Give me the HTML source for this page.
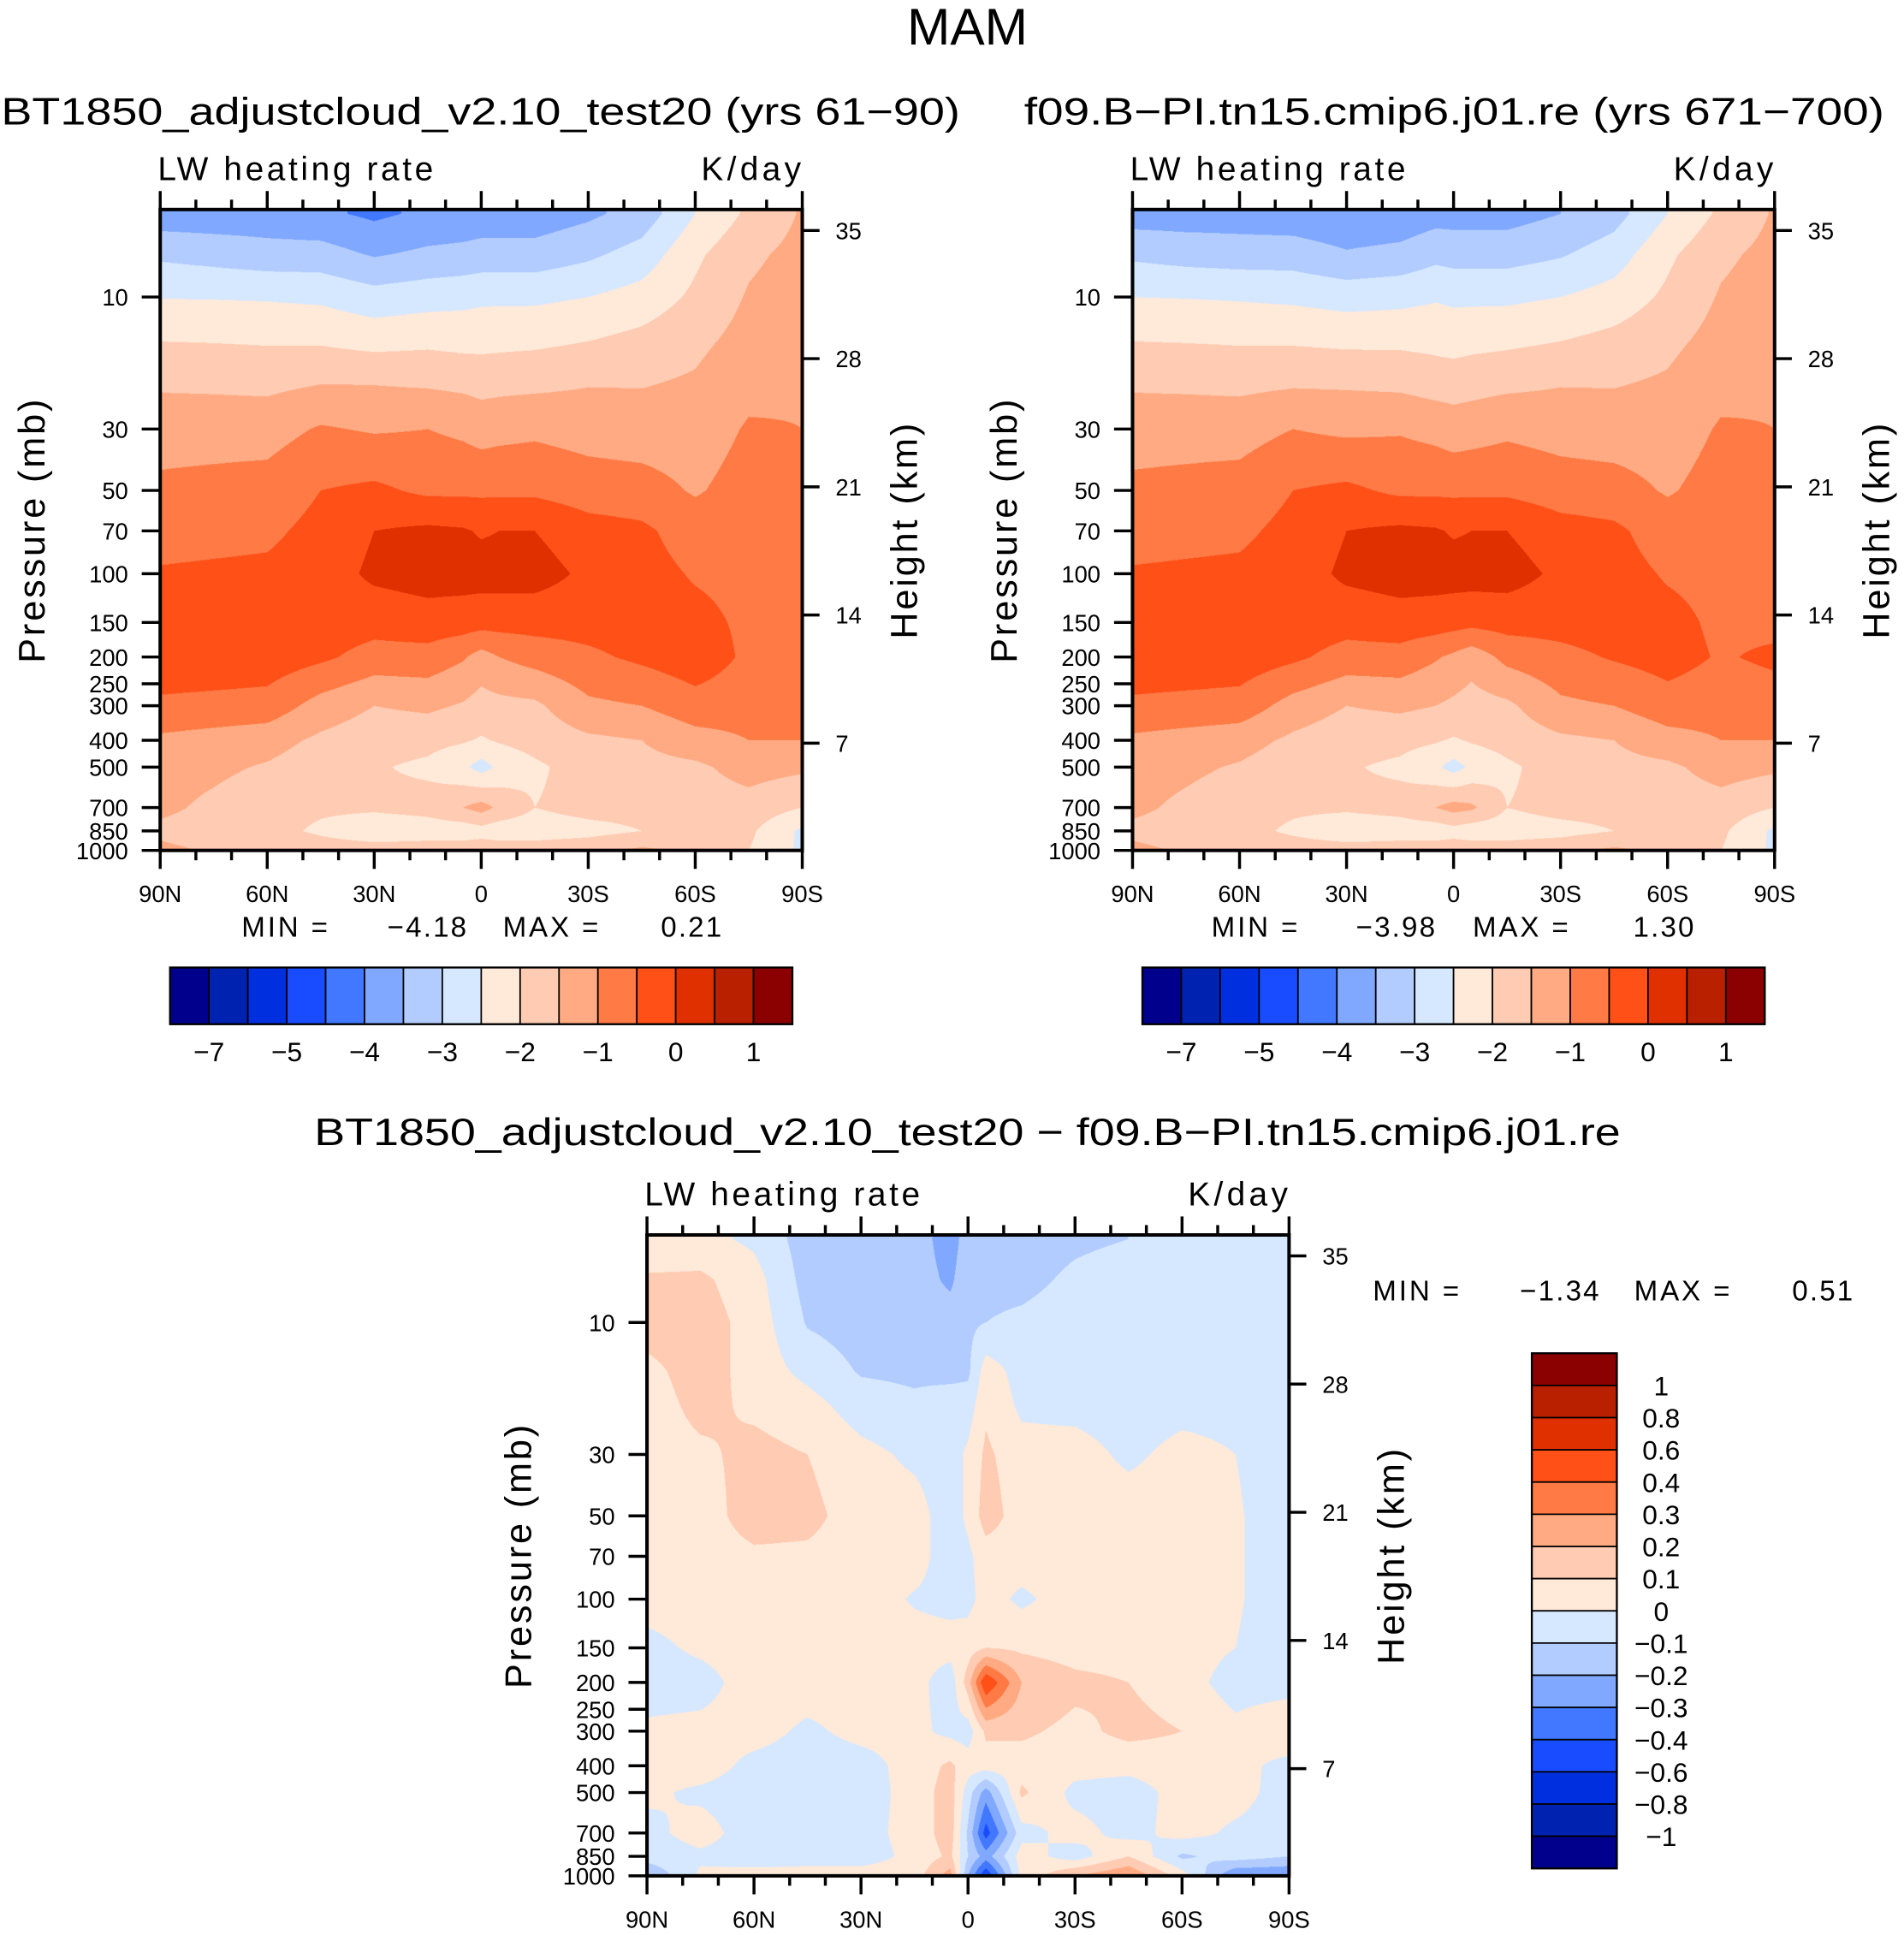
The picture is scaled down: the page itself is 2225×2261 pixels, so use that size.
<!DOCTYPE html>
<html><head><meta charset="utf-8"><style>
html,body{margin:0;padding:0;background:#fff;width:2225px;height:2261px;overflow:hidden}
#root{position:absolute;left:0;top:0;width:1545px;height:1570px;transform-origin:0 0;transform:scale(1.44013,1.44013)}
canvas{position:absolute}
svg{position:absolute;left:0;top:0}
text{font-family:"Liberation Sans",sans-serif;fill:#000}
</style></head><body>
<div id="root">
<canvas id="c1" width="1042" height="1040" style="left:130px;top:170px;width:521px;height:520px"></canvas>
<canvas id="c2" width="1042" height="1040" style="left:919px;top:170px;width:521px;height:520px"></canvas>
<canvas id="c3" width="1042" height="1040" style="left:525px;top:1002px;width:521px;height:520px"></canvas>
<svg id="ov" width="1545" height="1570" viewBox="0 0 1545 1570"></svg>
</div>
<script>
// ---- data ----
const lats = [90,75,60,45,30,15,5,0,-5,-15,-30,-45,-60,-75,-90];
const plevs = [5,7,10,15,20,30,50,70,100,150,200,300,400,500,700,850,1000];
const levelsTop = [-7,-6,-5,-4.5,-4,-3.5,-3,-2.5,-2,-1.5,-1,-0.5,0,0.5,1];
const levelsDiff = [-1,-0.8,-0.6,-0.4,-0.3,-0.2,-0.1,0,0.1,0.2,0.3,0.4,0.6,0.8,1];
const topBarLabels = ['−7','−5','−4','−3','−2','−1','0','1'];
const diffBarLabels = ['1','0.8','0.6','0.4','0.3','0.2','0.1','0','−0.1','−0.2','−0.3','−0.4','−0.6','−0.8','−1'];
const colors = ['#00008c','#0022b0','#002fe0','#1a4cff','#4178ff','#80a8ff','#b2ccff','#d6e8ff','#ffe9d9','#ffcbb2','#ffaa82','#ff7a45','#ff5018','#e03000','#b82000','#8b0000'];
const latLabels = ['90N','60N','30N','0','30S','60S','90S'];
const pLabels = [10,30,50,70,100,150,200,250,300,400,500,700,850,1000];
const hLabels = [35,28,21,14,7];
const leftField = [
[-3.8,-3.1,-2.52,-1.95,-1.6,-1.2,-0.9,-0.7,-0.45,-0.2,-0.15,-0.6,-1.1,-1.3,-1.4,-1.6,-1.4],
[-3.8,-3.2,-2.53,-1.97,-1.62,-1.2,-0.85,-0.65,-0.42,-0.2,-0.17,-0.65,-1.2,-1.4,-1.6,-1.7,-1.55],
[-3.8,-3.3,-2.55,-2.0,-1.65,-1.2,-0.8,-0.6,-0.4,-0.2,-0.2,-0.7,-1.3,-1.55,-1.8,-1.8,-1.7],
[-3.9,-3.3,-2.6,-2.0,-1.55,-0.95,-0.5,-0.35,-0.25,-0.2,-0.4,-1.2,-1.6,-1.8,-1.9,-2.1,-1.7],
[-4.1,-3.55,-2.8,-2.1,-1.55,-1.05,-0.4,0.0,0.1,-0.3,-0.7,-1.5,-1.8,-1.95,-1.9,-2.4,-1.7],
[-3.9,-3.4,-2.7,-2.05,-1.6,-1.0,-0.6,0.1,0.2,-0.2,-0.7,-1.4,-1.85,-2.1,-1.8,-2.3,-1.7],
[-3.85,-3.35,-2.65,-2.1,-1.65,-1.1,-0.6,0.05,0.2,-0.25,-0.95,-1.55,-1.95,-2.4,-1.5,-2.3,-1.7],
[-3.8,-3.3,-2.6,-2.1,-1.7,-1.2,-0.6,-0.05,0.2,-0.3,-1.2,-1.7,-2.05,-2.7,-1.3,-2.2,-1.7],
[-3.8,-3.3,-2.6,-2.08,-1.68,-1.15,-0.6,0.0,0.2,-0.3,-1.0,-1.65,-1.95,-2.4,-1.6,-2.3,-1.7],
[-3.8,-3.3,-2.6,-2.05,-1.65,-1.1,-0.6,0.0,0.2,-0.3,-0.8,-1.6,-1.8,-2.1,-2.0,-2.3,-1.7],
[-3.6,-3.1,-2.5,-1.95,-1.55,-1.2,-0.75,-0.3,-0.1,-0.3,-0.6,-1.1,-1.6,-1.75,-1.8,-2.2,-1.6],
[-3.3,-2.8,-2.3,-1.8,-1.55,-1.25,-0.8,-0.4,-0.3,-0.25,-0.4,-1.0,-1.5,-1.65,-1.8,-2.0,-1.4],
[-2.5,-2.1,-1.9,-1.6,-1.45,-1.25,-1.05,-0.75,-0.55,-0.35,-0.2,-0.7,-1.2,-1.6,-1.75,-1.9,-1.6],
[-1.9,-1.6,-1.45,-1.3,-1.15,-0.95,-0.8,-0.7,-0.65,-0.6,-0.6,-0.8,-1.0,-1.3,-1.7,-1.9,-2.0],
[-1.45,-1.35,-1.25,-1.15,-1.05,-1.0,-0.9,-0.8,-0.7,-0.65,-0.6,-0.75,-1.0,-1.4,-2.0,-2.6,-2.6]];
const rightField = [
[-3.75,-3.1,-2.5,-1.95,-1.6,-1.2,-0.9,-0.7,-0.45,-0.2,-0.15,-0.6,-1.1,-1.3,-1.4,-1.6,-1.4],
[-3.75,-3.2,-2.52,-1.97,-1.62,-1.2,-0.85,-0.65,-0.42,-0.2,-0.17,-0.65,-1.2,-1.4,-1.6,-1.7,-1.55],
[-3.75,-3.25,-2.55,-2.0,-1.65,-1.2,-0.8,-0.6,-0.4,-0.2,-0.2,-0.7,-1.3,-1.55,-1.8,-1.8,-1.7],
[-3.8,-3.25,-2.6,-2.0,-1.6,-1.0,-0.5,-0.35,-0.25,-0.2,-0.4,-1.2,-1.6,-1.8,-1.9,-2.1,-1.7],
[-3.9,-3.45,-2.7,-2.05,-1.6,-1.1,-0.4,0.0,0.1,-0.3,-0.7,-1.5,-1.8,-1.95,-1.9,-2.4,-1.7],
[-3.85,-3.35,-2.65,-2.05,-1.65,-1.05,-0.6,0.1,0.2,-0.2,-0.7,-1.4,-1.85,-2.1,-1.8,-2.3,-1.7],
[-3.7,-3.15,-2.55,-2.1,-1.75,-1.15,-0.6,0.05,0.2,-0.25,-0.95,-1.5,-1.95,-2.4,-1.5,-2.3,-1.7],
[-3.7,-3.2,-2.6,-2.15,-1.75,-1.25,-0.6,-0.05,0.2,-0.3,-1.1,-1.6,-2.05,-2.7,-1.3,-2.2,-1.7],
[-3.7,-3.2,-2.6,-2.1,-1.72,-1.2,-0.6,0.0,0.2,-0.35,-1.3,-1.7,-1.95,-2.4,-1.4,-2.3,-1.7],
[-3.7,-3.2,-2.6,-2.05,-1.65,-1.1,-0.6,0.0,0.2,-0.3,-0.85,-1.6,-1.8,-2.1,-2.0,-2.3,-1.7],
[-3.5,-3.05,-2.5,-1.95,-1.55,-1.2,-0.75,-0.3,-0.1,-0.3,-0.65,-1.1,-1.6,-1.75,-1.8,-2.2,-1.6],
[-3.2,-2.75,-2.3,-1.8,-1.55,-1.25,-0.8,-0.4,-0.3,-0.25,-0.45,-1.0,-1.5,-1.65,-1.8,-2.0,-1.4],
[-2.5,-2.1,-1.9,-1.6,-1.45,-1.25,-1.05,-0.75,-0.55,-0.35,-0.3,-0.7,-1.2,-1.6,-1.75,-1.9,-1.6],
[-1.9,-1.6,-1.45,-1.3,-1.15,-0.95,-0.8,-0.7,-0.65,-0.6,-0.55,-0.8,-1.0,-1.3,-1.7,-1.9,-2.0],
[-1.45,-1.35,-1.25,-1.15,-1.05,-1.0,-0.9,-0.8,-0.7,-0.65,-0.4,-0.75,-1.0,-1.4,-2.0,-2.6,-2.6]];
const diffField = [
[0.0,0.12,0.15,0.07,0.05,0.05,0.05,0.05,0.04,-0.03,-0.05,0.02,0.04,0.02,-0.03,-0.05,-0.2],
[0.03,0.12,0.15,0.15,0.13,0.08,0.05,0.05,0.05,0.02,-0.04,0.03,0.05,-0.02,0.04,-0.02,0.02],
[-0.02,0.04,0.06,0.06,0.08,0.13,0.15,0.08,0.05,0.05,0.05,0.04,-0.03,-0.05,-0.05,-0.04,0.03],
[-0.15,-0.14,-0.11,-0.03,0.04,0.1,0.13,0.08,0.05,0.05,0.05,-0.02,-0.05,-0.05,-0.05,-0.03,0.03],
[-0.16,-0.16,-0.15,-0.11,-0.05,0.03,0.05,0.05,0.05,0.05,0.05,0.03,-0.04,-0.05,-0.04,-0.05,0.05],
[-0.15,-0.15,-0.15,-0.12,-0.08,-0.02,0.04,0.04,-0.01,0.04,0.04,0.03,0.04,0.04,0.04,0.03,0.05],
[-0.25,-0.22,-0.15,-0.13,-0.05,-0.05,-0.05,-0.05,-0.03,0.04,-0.06,-0.03,0.12,0.15,0.15,0.12,0.25],
[-0.15,-0.13,-0.12,-0.12,-0.05,0.02,0.02,-0.02,-0.03,0.05,0.15,-0.05,0.05,-0.05,-0.12,-0.1,-0.2],
[-0.13,-0.13,-0.1,0.05,0.08,0.12,0.15,0.05,0.04,0.1,0.5,0.12,0.05,-0.25,-0.45,-0.25,-0.5],
[-0.15,-0.13,-0.08,-0.04,-0.02,0.04,0.05,0.05,-0.02,0.08,0.2,0.12,0.05,0.12,-0.04,0.05,0.03],
[-0.12,-0.08,-0.05,-0.05,-0.03,0.04,0.05,0.05,0.05,0.05,0.13,0.07,0.04,-0.03,0.04,-0.05,0.2],
[-0.1,-0.05,-0.05,-0.05,-0.05,-0.02,0.05,0.05,0.05,0.05,0.1,0.13,0.03,-0.05,-0.04,0.1,0.3],
[-0.05,-0.05,-0.05,-0.05,-0.03,0.03,0.05,0.05,0.05,0.05,0.05,0.1,0.05,0.04,0.04,-0.12,0.05],
[-0.05,-0.05,-0.05,-0.05,-0.03,0.0,0.01,0.01,0.01,0.0,-0.05,0.03,0.04,0.04,-0.02,-0.05,-0.3],
[-0.1,-0.05,-0.05,-0.05,-0.05,-0.05,-0.05,-0.05,-0.05,-0.05,-0.05,0.1,-0.04,-0.05,-0.05,-0.1,-0.3]];

// ---- scales ----
const W = 521, H = 520;
function xOfLat(lat){ return (90-lat)/180*W; }
function yOfP(p){ return H - 224.5*(3-Math.log10(p)); }
function yOfKm(z){ return 433 - (z-7)*14.857; }

function drawField(id, field, levels){
  const cv = document.getElementById(id), ctx = cv.getContext('2d');
  const CW = cv.width, CH = cv.height, sx = CW/W, sy = CH/H;
  const img = ctx.createImageData(CW, CH);
  const rgb = colors.map(c=>[parseInt(c.slice(1,3),16),parseInt(c.slice(3,5),16),parseInt(c.slice(5,7),16)]);
  const lx = lats.map(xOfLat), ly = plevs.map(yOfP);
  for(let py=0; py<CH; py++){
    const y = (py+0.5)/sy;
    let j=0; while(j<ly.length-2 && ly[j+1]<y) j++;
    let ty = (y-ly[j])/(ly[j+1]-ly[j]); ty=Math.max(0,Math.min(1,ty));
    for(let px=0; px<CW; px++){
      const x = (px+0.5)/sx;
      let i=0; while(i<lx.length-2 && lx[i+1]<x) i++;
      let tx = (x-lx[i])/(lx[i+1]-lx[i]); tx=Math.max(0,Math.min(1,tx));
      const v = (field[i][j]*(1-tx)+field[i+1][j]*tx)*(1-ty) + (field[i][j+1]*(1-tx)+field[i+1][j+1]*tx)*ty;
      let k=0; while(k<levels.length && v>=levels[k]) k++;
      const c = rgb[k], o=(py*CW+px)*4;
      img.data[o]=c[0]; img.data[o+1]=c[1]; img.data[o+2]=c[2]; img.data[o+3]=255;
    }
  }
  ctx.putImageData(img,0,0);
}
drawField('c1', leftField, levelsTop);
drawField('c2', rightField, levelsTop);
drawField('c3', diffField, levelsDiff);

// ---- svg overlay ----
const NS='http://www.w3.org/2000/svg', ov=document.getElementById('ov');
function el(tag, attrs, parent){ const e=document.createElementNS(NS,tag); for(const k in attrs) e.setAttribute(k,attrs[k]); (parent||ov).appendChild(e); return e; }
function txt(s, x, y, size, anchor, name, extra){
  const t = el('text', Object.assign({x:x,y:y,'font-size':size,'text-anchor':anchor||'start'}, extra||{}));
  t.textContent = s;
  
  
  return t;
}
function line(x1,y1,x2,y2,w,name){
  const l = el('line',{x1:x1,y1:y1,x2:x2,y2:y2,stroke:'#000','stroke-width':w});
  
  
  return l;
}

function axes(x0, y0, pfx){
  const g = el('g',{});
  
  
  const r = el('rect',{x:x0,y:y0,width:W,height:H,fill:'none',stroke:'#000','stroke-width':2.8},g);
  
  
  for(let lat=90; lat>=-90; lat-=10){
    const x = x0 + xOfLat(lat), major = (lat%30===0);
    const L = major?15:8;
    line(x, y0, x, y0-L, 2.4, pfx+'-top-tick');
    line(x, y0+H, x, y0+H+L, 2.4, pfx+'-bottom-tick');
  }
  latLabels.forEach((s,i)=>{
    txt(s, x0 + i*W/6, y0+H+42, 19, 'middle', pfx+'-x-tick-label');
  });
  pLabels.forEach(p=>{
    const y = y0 + yOfP(p);
    line(x0-15, y, x0, y, 2.4, pfx+'-y-tick');
    txt(String(p), x0-26, y+7, 19, 'end', pfx+'-y-tick-label');
  });
  hLabels.forEach(z=>{
    const y = y0 + yOfKm(z);
    line(x0+W, y, x0+W+14, y, 2.4, pfx+'-height-tick');
    txt(String(z), x0+W+27, y+7, 19, 'start', pfx+'-height-tick-label');
  });
  txt('LW heating rate', x0-2, y0-24, 27, 'start', pfx+'-left-subtitle', {'letter-spacing':'2.5'});
  txt('K/day', x0+W+2, y0-24, 27, 'end', pfx+'-units-label', {'letter-spacing':'3'});
  txt('Pressure (mb)', 0, 0, 30, 'middle', pfx+'-y-axis-title', {transform:`translate(${x0-94},${y0+260}) rotate(-90)`, 'letter-spacing':'2'});
  txt('Height (km)', 0, 0, 30, 'middle', pfx+'-height-axis-title', {transform:`translate(${x0+W+93},${y0+260}) rotate(-90)`, 'letter-spacing':'2'});
}
axes(130,170,'left');
axes(919,170,'right');
axes(525,1002,'diff');

function hbar(x0, pfx){
  const y0=785, bw=(643-138)/16, bh=46;
  colors.forEach((c,i)=>{
    const r = el('rect',{x:x0+i*bw,y:y0,width:bw,height:bh,fill:c,stroke:'#000','stroke-width':1.2});
    
    
  });
  el('rect',{x:x0,y:y0,width:16*bw,height:bh,fill:'none',stroke:'#000','stroke-width':1.6});
  topBarLabels.forEach((s,k)=>{
    txt(s, x0+(2*k+1)*bw, y0+76, 22, 'middle', pfx+'-colorbar-label');
  });
}
hbar(138,'left'); hbar(927,'right');
(function(){
  const x0=1243, y0=1098, bw=69, bh=(1516-1098)/16;
  for(let i=0;i<16;i++){
    const r = el('rect',{x:x0,y:y0+i*bh,width:bw,height:bh,fill:colors[15-i],stroke:'#000','stroke-width':1.2});
    
    
  }
  el('rect',{x:x0,y:y0,width:bw,height:16*bh,fill:'none',stroke:'#000','stroke-width':1.6});
  diffBarLabels.forEach((s,k)=>{
    txt(s, 1348, y0+(k+1)*bh+8, 22, 'middle', 'diff-colorbar-label');
  });
})();

txt('MAM', 785, 36, 42, 'middle', 'figure-title');
txt('BT1850_adjustcloud_v2.10_test20 (yrs 61−90)', 390, 101, 31, 'middle', 'left-panel-title', {textLength:778, lengthAdjust:'spacingAndGlyphs'});
txt('f09.B−PI.tn15.cmip6.j01.re (yrs 671−700)', 1180, 101, 31, 'middle', 'right-panel-title', {textLength:698, lengthAdjust:'spacingAndGlyphs'});
txt('BT1850_adjustcloud_v2.10_test20 − f09.B−PI.tn15.cmip6.j01.re', 785, 929, 31, 'middle', 'diff-panel-title', {textLength:1060, lengthAdjust:'spacingAndGlyphs'});
function mm(a,b,c,d,y,pfx){
  txt('MIN =', a, y, 23, 'start', pfx+'-min-label', {'letter-spacing':'2'});
  txt(b[0], b[1], y, 23, 'end', pfx+'-min-value', {'letter-spacing':'1.5'});
  txt('MAX =', c, y, 23, 'start', pfx+'-max-label', {'letter-spacing':'2'});
  txt(d[0], d[1], y, 23, 'end', pfx+'-max-value', {'letter-spacing':'1.5'});
}
mm(196,['−4.18',380],408,['0.21',587],760,'left');
mm(983,['−3.98',1166],1195,['1.30',1376],760,'right');
mm(1114,['−1.34',1299],1326,['0.51',1505],1055,'diff');
</script>
</body></html>
